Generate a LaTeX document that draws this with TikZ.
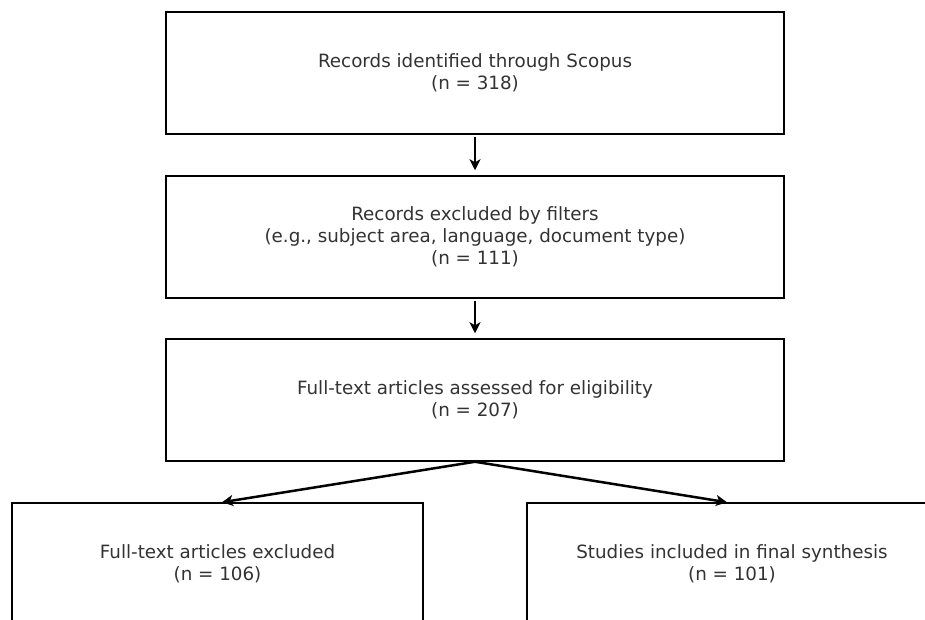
\documentclass[tikz,border=0pt]{standalone}
\usepackage{fontspec}
\setmainfont{DejaVu Sans}
\usetikzlibrary{arrows.meta}
\definecolor{labelgray}{HTML}{333333}

\tikzset{
  flowbox/.style={draw=black, line width=1.5pt, fill=white, inner sep=0pt,
    minimum height=122pt, align=center, text=labelgray,
    font=\fontsize{18.3}{22}\selectfont},
  flowarrow/.style={-{Stealth[length=11pt, width=11pt, inset=3pt]}, line width=2.5pt, black}
}

\begin{document}
\begin{tikzpicture}[x=1pt, y=-1pt]
  % Page frame; the two bottom boxes run past the lower and right edges
  \path[use as bounding box, fill=white] (0,0) rectangle (925,619);
  \clip (0,0) rectangle (925,619);
  % Stages of the screening
  \node[flowbox, minimum width=618pt] (identified) at (475,73)
    {Records identified through Scopus\\(n = 318)};
  \node[flowbox, minimum width=618pt] (filtered) at (475,237)
    {Records excluded by filters\\(e.g., subject area, language, document type)\\(n = 111)};
  \node[flowbox, minimum width=618pt] (assessed) at (475,400)
    {Full-text articles assessed for eligibility\\(n = 207)};
  \node[flowbox, minimum width=411pt] (excluded) at (217.5,564)
    {Full-text articles excluded\\(n = 106)};
  \node[flowbox, minimum width=410pt] (included) at (732,564)
    {Studies included in final synthesis\\(n = 101)};
  % Arrows between stages
  \draw[flowarrow, shorten <=2.5pt, shorten >=5pt] (identified.south) -- (filtered.north);
  \draw[flowarrow, shorten <=2.5pt, shorten >=5pt] (filtered.south) -- (assessed.north);
  \draw[flowarrow] (assessed.south) -- ([xshift=4.5pt]excluded.north);
  \draw[flowarrow] (assessed.south) -- ([xshift=-5pt]included.north);
\end{tikzpicture}
\end{document}
